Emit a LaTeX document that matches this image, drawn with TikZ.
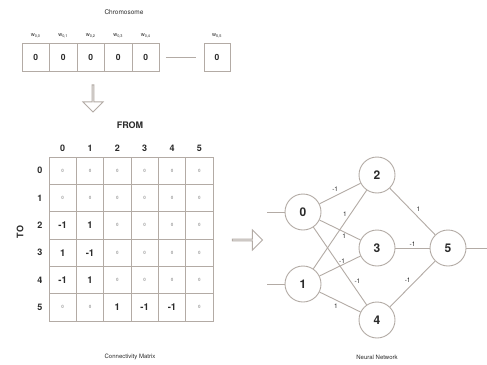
\documentclass[tikz,border=0pt]{standalone}
\usepackage{fontspec}
\setmainfont{TeX Gyre Heros}
\usepackage{xcolor}
\usetikzlibrary{shapes.arrows, positioning, arrows.meta}
\definecolor{linegray}{HTML}{B3ABA5}
\definecolor{inkgray}{HTML}{2B2B2B}
\definecolor{zerogray}{HTML}{A0A0A0}

\begin{document}
\begin{tikzpicture}[
    x=1pt, y=-1pt,
    gene/.style={rectangle, draw=linegray, line width=0.9pt, minimum width=27.5pt,
                 minimum height=28pt, inner sep=0pt, text=inkgray,
                 font=\fontsize{8.5}{9}\selectfont\bfseries},
    genelab/.style={inner sep=0pt, text=inkgray, font=\fontsize{5.5}{6}\selectfont},
    cell/.style={rectangle, draw=linegray, line width=0.8pt, minimum size=27.33pt,
                 inner sep=0pt, text=inkgray, font=\fontsize{9.5}{10}\selectfont\bfseries},
    axislab/.style={inner sep=0pt, text=inkgray, font=\fontsize{9}{9}\selectfont\bfseries},
    caption/.style={inner sep=0pt, text=inkgray, font=\fontsize{6}{6}\selectfont},
    neuron/.style={circle, draw=linegray, line width=0.9pt, minimum size=36pt,
                   inner sep=0pt, text=inkgray, font=\fontsize{12}{12}\selectfont\bfseries},
    wire/.style={draw=linegray, line width=0.9pt},
    wlab/.style={inner sep=1.5pt, text=inkgray, font=\fontsize{6.5}{7}\selectfont},
    hollow/.style={single arrow, draw=linegray, line width=0.9pt, fill=white,
                   minimum width=20pt, single arrow head extend=5pt, inner sep=0pt}
]
\useasboundingbox[fill=white] (0,0) rectangle (487,364);

% chromosome
\node[caption, font=\fontsize{6.5}{7}\selectfont] (chrom) at (124,12) {Chromosome};
\foreach \i/\x in {0/35.7, 1/63.2, 2/90.7, 3/118.2, 4/145.7} {
  \node[gene] (g\i) at (\x,57) {0};
  \node[genelab, above=4pt of g\i] (w\i) {w\textsubscript{0,\i}};
}
\node[gene, minimum width=26pt] (g5) at (217,57) {0};
\node[genelab, above=4pt of g5] (w5) {w\textsubscript{5,5}};
\draw[wire, shorten <=6pt, shorten >=8pt] (g4) -- (g5);

\node[hollow, minimum height=27pt, rotate=-90] (down) at (93,98) {};

% connectivity matrix
\node[axislab] (from) at (130,125) {FROM};
\node[axislab, rotate=90] (to) at (20,232) {TO};
\foreach \vals [count=\r from 0] in {{0,0,0,0,0,0},{0,0,0,0,0,0},{-1,1,0,0,0,0},
                                     {1,-1,0,0,0,0},{-1,1,0,0,0,0},{0,0,1,-1,-1,0}} {
  \foreach \v [count=\c from 0] in \vals {
    \node[cell] (m-\r-\c) at ({62.7+27.33*\c},{170.7+27.33*\r})
      {\ifnum\v=0 {\color{zerogray}\fontsize{4.5}{5}\selectfont 0}\else\v\fi};
  }
  \node[axislab, left=6pt of m-\r-0] (row\r) {\r};
}
\foreach \c in {0,...,5}
  \node[axislab, above=5pt of m-0-\c] (col\c) {\c};
\node[caption] (matcap) at (130,357) {Connectivity Matrix};

\node[hollow, minimum height=30pt] (right) at (247,240) {};

% neural network
\node[neuron] (n0) at (303,212) {0};
\node[neuron] (n1) at (303,284) {1};
\node[neuron] (n2) at (377,175) {2};
\node[neuron] (n3) at (377,248) {3};
\node[neuron] (n4) at (377,320) {4};
\node[neuron] (n5) at (448,248) {5};
\coordinate (in0) at (267,212);
\coordinate (in1) at (267,284);
\coordinate (out) at (487,248);

\draw[wire] (in0) -- (n0);
\draw[wire] (in1) -- (n1);
\draw[wire] (n5) -- (out);
\draw[wire] (n0) -- node[wlab, midway, above left] {-1} (n2);
\draw[wire] (n1) -- node[wlab, pos=0.7, left=2pt] {1} (n2);
\draw[wire] (n0) -- node[wlab, pos=0.6, below] {1} (n3);
\draw[wire] (n1) -- node[wlab, pos=0.55, above] {-1} (n3);
\draw[wire] (n0) -- node[wlab, pos=0.7, right=2pt] {-1} (n4);
\draw[wire] (n1) -- node[wlab, pos=0.4, below=2pt] {1} (n4);
\draw[wire] (n2) -- node[wlab, pos=0.55, above right] {1} (n5);
\draw[wire] (n3) -- node[wlab, midway, above] {-1} (n5);
\draw[wire] (n4) -- node[wlab, midway, above left] {-1} (n5);
\node[caption] (netcap) at (377,357) {Neural Network};

\end{tikzpicture}
\end{document}
